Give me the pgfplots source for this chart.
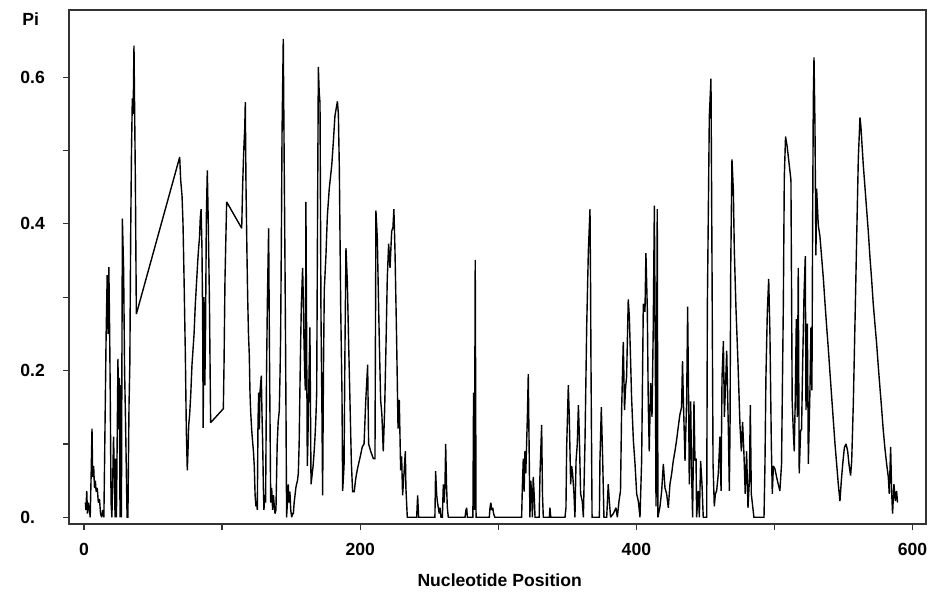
\documentclass[border=0pt]{standalone}
\usepackage{pgfplots}
\pgfplotsset{compat=1.18}
\usepackage{fontspec}
\setmainfont{Liberation Sans}
\newcommand{\lblfont}{\fontsize{8.8}{10}\selectfont\bfseries}
\begin{document}
\begin{tikzpicture}
\path[use as bounding box] (-34.65pt,-36.4pt) rectangle (431.85pt,262.1pt);
\begin{axis}[
  scale only axis, width=428.35pt, height=256.9pt,
  at={(0,0)}, anchor=south west,
  xmin=-10.64, xmax=609.7, ymin=-0.0094, ymax=0.691,
  axis line style={line width=0.9pt, color=black!80},
  tick align=outside, xtick pos=left, ytick pos=left,
  major tick length=3pt,
  every tick/.style={line width=0.6pt, color=black!80},
  xtick={0,100,200,300,400,500,600}, xticklabels={0,,200,,400,,600},
  ytick={0,0.1,0.2,0.3,0.4,0.5,0.6}, yticklabels={0.,,0.2,,0.4,,0.6},
  every tick label/.append style={font=\lblfont, inner sep=0pt},
  yticklabel style={anchor=west, xshift=-21.65pt},
  xticklabel style={anchor=north, yshift=-6.15pt},
  xlabel={Nucleotide Position},
  xlabel style={font=\lblfont, inner sep=0pt, at={(axis description cs:0.5,0)}, anchor=base, yshift=-31.4pt, xshift=1pt},
]
\addplot[black, line width=0.7pt, mark=none, line join=miter, miter limit=2] coordinates {
(1.0,0.02) (1.4,0.01) (2.0,0.036) (2.5,0.005) (3.2,0.02) (3.8,0.012) (4.5,0.0) (5.2,0.06) (5.8,0.121) (6.3,0.055) (7.0,0.07) (7.6,0.04) (8.2,0.05) (8.8,0.035) (9.6,0.04) (10.4,0.02) (11.2,0.025) (12.0,0.005) (12.8,0.0) (13.6,0.01) (14.4,0.0) (15.0,0.09) (16.0,0.245) (16.8,0.33) (17.4,0.25) (18.0,0.341) (18.6,0.25) (19.0,0.17) (19.6,0.02) (20.2,0.0) (20.8,0.05) (21.4,0.11) (22.0,0.06) (22.5,0.0) (23.0,0.08) (23.5,0.0) (24.0,0.1) (24.6,0.216) (25.1,0.12) (25.6,0.19) (26.1,0.0) (26.6,0.18) (27.1,0.0) (27.8,0.407) (28.7,0.337) (29.4,0.2) (30.0,0.14) (30.6,0.07) (31.2,0.0) (31.8,0.0) (32.6,0.152) (33.2,0.21) (33.8,0.383) (34.4,0.5) (35.0,0.571) (35.6,0.55) (36.2,0.643) (36.7,0.55) (37.2,0.459) (37.9,0.277)
(69.3,0.491) (70.0,0.46) (71.0,0.438) (71.7,0.40) (72.4,0.331) (73.4,0.221) (74.1,0.118) (74.8,0.064) (75.3,0.09) (75.8,0.125) (76.5,0.14) (77.3,0.167) (78.2,0.208) (79.0,0.23) (79.7,0.25) (80.6,0.29) (81.2,0.31) (81.8,0.33) (82.4,0.35) (83.0,0.367) (83.6,0.38) (84.2,0.408) (84.8,0.42) (85.4,0.37) (85.9,0.277) (86.3,0.122) (86.9,0.30) (87.5,0.18) (88.0,0.25) (88.6,0.41) (89.3,0.473) (90.0,0.40) (90.8,0.30) (91.7,0.129)
(100.9,0.148) (101.4,0.208) (102.1,0.325) (103.3,0.43) (114.2,0.394) (114.9,0.453) (115.5,0.49) (115.9,0.51) (116.4,0.53) (116.8,0.566) (117.3,0.453) (118.0,0.36) (118.5,0.302) (119.1,0.25) (119.7,0.221) (120.2,0.17) (120.7,0.144) (121.4,0.12) (122.1,0.103) (122.7,0.09) (123.3,0.07) (123.9,0.03) (124.5,0.015) (125.0,0.02) (125.5,0.01) (126.0,0.13) (126.5,0.17) (127.0,0.12) (127.4,0.17) (128.4,0.193) (128.9,0.14) (129.4,0.1) (129.9,0.04) (130.3,0.01) (130.9,0.03) (131.5,0.02) (132.2,0.2) (132.8,0.295) (133.7,0.394) (134.4,0.2) (135.2,0.02) (135.9,0.04) (136.6,0.01) (137.2,0.03) (137.6,0.02) (138.3,0.005) (139.0,0.01) (139.9,0.1) (140.6,0.13) (141.4,0.145) (142.0,0.2) (142.4,0.25) (143.0,0.4) (143.4,0.523) (144.3,0.652) (144.9,0.5) (145.5,0.357) (145.9,0.25) (146.3,0.135) (146.7,0.0) (147.3,0.02) (147.9,0.045) (148.5,0.02) (149.1,0.035) (149.7,0.01) (150.4,0.0) (151.0,0.005) (151.6,0.005) (152.2,0.02) (152.8,0.03) (153.4,0.04) (153.9,0.045) (154.6,0.05) (155.2,0.06) (155.8,0.1) (156.4,0.18) (156.9,0.24) (157.4,0.29) (158.3,0.34) (158.8,0.3) (159.3,0.24) (159.8,0.2) (160.3,0.173) (160.7,0.43) (161.2,0.25) (161.7,0.07) (162.1,0.1) (162.4,0.135) (163.0,0.2) (163.6,0.259) (164.0,0.15) (164.4,0.045) (165.3,0.06) (165.9,0.07) (166.5,0.085) (167.0,0.1) (167.5,0.117) (168.0,0.14) (168.5,0.17) (169.1,0.4) (169.7,0.614) (170.3,0.58) (170.9,0.565) (171.6,0.277) (172.3,0.144) (172.8,0.03) (173.4,0.2) (174.0,0.31)
(175.2,0.357) (176.2,0.41) (177.6,0.448) (179.4,0.48) (180.5,0.51) (181.7,0.547) (183.5,0.567) (184.2,0.55) (184.9,0.475) (185.9,0.285) (186.8,0.17) (187.3,0.036) (188.3,0.07) (189.0,0.236) (189.7,0.367) (190.7,0.32) (191.6,0.24) (192.6,0.158) (193.6,0.075) (194.5,0.035) (195.7,0.035) (196.7,0.052) (197.9,0.065) (199.1,0.075) (200.3,0.085) (201.5,0.096) (202.8,0.1) (204.0,0.158) (205.4,0.208) (206.1,0.1) (207.6,0.09) (209.5,0.08) (210.7,0.08) (211.4,0.418) (212.4,0.38) (213.1,0.31) (213.9,0.235) (214.8,0.16) (215.7,0.14) (216.7,0.09) (217.7,0.146) (218.7,0.236) (219.6,0.325) (220.6,0.373) (221.6,0.34) (222.8,0.39) (223.7,0.395) (224.4,0.42) (225.2,0.363) (226.4,0.24) (227.4,0.121) (228.3,0.16) (229.3,0.064) (230.0,0.083) (230.7,0.03) (231.7,0.059) (232.7,0.09) (233.1,0.04) (234.1,0.0)
(240.9,0.0) (241.6,0.03) (242.3,0.0) (254.1,0.0) (254.6,0.063) (255.4,0.03) (256.0,0.02) (256.6,0.013) (257.2,0.005) (257.8,0.013) (258.5,0.0) (259.5,0.0) (260.2,0.045) (260.8,0.02) (261.4,0.045) (261.9,0.1) (262.5,0.045) (263.1,0.013) (263.8,0.0) (275.9,0.0) (276.6,0.01) (277.1,0.013) (277.6,0.0) (281.6,0.0) (282.1,0.17) (282.7,0.01) (283.3,0.351) (283.9,0.0) (293.5,0.0) (294.0,0.013) (294.6,0.02) (295.2,0.01) (296.0,0.013) (296.6,0.005) (297.5,0.0) (316.9,0.0) (317.4,0.04) (318.1,0.08) (318.7,0.035) (319.3,0.09) (319.9,0.06) (320.5,0.1) (321.1,0.14) (321.7,0.195) (322.3,0.1) (322.9,0.0) (323.5,0.05) (324.1,0.035) (324.7,0.0) (325.3,0.055) (326.0,0.03) (326.6,0.0) (329.6,0.0) (330.2,0.06) (331.4,0.126) (332.0,0.03) (332.6,0.0) (337.0,0.0) (337.4,0.013) (338.0,0.0) (348.3,0.0)
(349.0,0.013) (349.5,0.095) (350.7,0.18) (351.4,0.137) (352.4,0.045) (353.1,0.07) (353.8,0.06) (354.8,0.032) (355.5,0.0) (356.3,0.077) (357.2,0.1) (358.0,0.153) (358.7,0.11) (359.6,0.032) (360.8,0.022) (361.6,0.0) (362.8,0.105) (364.0,0.259) (365.2,0.362) (366.4,0.42) (366.8,0.32) (367.1,0.214) (367.9,0.0) (373.2,0.0) (373.6,0.077) (374.6,0.15) (375.6,0.077) (376.5,0.0) (378.5,0.0) (379.6,0.045) (380.4,0.022) (381.3,0.0) (383.3,0.005) (385.2,0.013) (386.2,0.0) (387.4,0.022) (388.5,0.036) (389.3,0.146) (390.5,0.239) (391.4,0.146) (392.2,0.178) (392.9,0.191) (394.1,0.297) (394.9,0.273) (395.8,0.214) (396.5,0.164) (397.8,0.105) (399.0,0.0727) (400.2,0.032) (401.4,0.022) (402.6,0.0) (403.8,0.077) (405.0,0.291) (406.2,0.28) (406.9,0.36) (407.9,0.284) (408.6,0.155) (409.3,0.09) (410.3,0.183) (411.3,0.137) (412.2,0.259) (413.0,0.425) (413.7,0.217) (414.2,0.015) (415.1,0.42) (415.6,0.0) (417.1,0.015) (418.3,0.036) (419.5,0.0727) (420.7,0.04) (421.9,0.032) (423.1,0.013) (424.3,0.045) (425.5,0.059) (426.7,0.077) (427.9,0.09) (429.1,0.105) (430.3,0.123) (431.5,0.14) (432.7,0.15) (433.4,0.213) (434.0,0.16) (435.2,0.077) (436.4,0.16) (437.1,0.287) (437.8,0.16) (438.3,0.045) (439.3,0.158) (440.0,0.059) (440.7,0.0) (441.7,0.158) (442.4,0.077) (443.2,0.08) (443.6,0.0) (444.8,0.036) (445.6,0.0) (446.5,0.077) (447.5,0.045) (448.4,0.0) (450.9,0.0) (451.4,0.291) (452.8,0.546) (454.0,0.598) (454.7,0.362) (455.5,0.0727) (456.4,0.015) (457.2,0.032) (458.1,0.036) (459.3,0.059) (460.5,0.11) (461.3,0.036) (462.0,0.19) (463.0,0.24) (463.7,0.137) (464.4,0.173) (465.4,0.227) (466.6,0.118) (467.3,0.036) (467.8,0.123) (468.3,0.34) (469.2,0.488) (470.2,0.446) (470.9,0.364) (472.1,0.285) (473.6,0.208) (475.0,0.126) (476.0,0.09) (476.9,0.13) (477.9,0.085) (478.8,0.032) (479.8,0.09) (480.8,0.013) (481.8,0.05) (482.5,0.153) (483.2,0.032) (484.2,0.015) (485.1,0.0) (492.4,0.0) (493.1,0.0727) (493.8,0.191) (494.8,0.28) (495.8,0.325) (496.7,0.25) (497.7,0.1) (498.4,0.032) (499.2,0.07) (500.3,0.066) (501.5,0.055) (502.7,0.045) (503.9,0.036) (505.1,0.0727) (506.4,0.291) (507.1,0.464) (508.0,0.519) (509.2,0.505) (510.4,0.485) (511.9,0.46) (512.8,0.159) (513.6,0.118) (514.3,0.09) (515.0,0.158) (515.8,0.27) (516.5,0.137) (517.2,0.34) (517.9,0.06) (518.9,0.118) (519.6,0.12) (520.4,0.21) (521.4,0.305) (522.3,0.356) (522.8,0.146) (523.8,0.264) (524.5,0.0727) (525.7,0.176) (526.4,0.259) (527.1,0.173) (527.6,0.397) (528.1,0.57) (528.6,0.627) (529.3,0.535) (530.0,0.357) (530.5,0.448) (531.7,0.398) (532.9,0.383) (534.1,0.355) (535.4,0.325) (536.6,0.291) (537.8,0.259) (539.0,0.229) (540.2,0.196) (541.4,0.164) (542.6,0.132) (543.8,0.1) (545.0,0.0727) (546.2,0.045) (547.4,0.022) (548.4,0.05) (549.4,0.0727) (550.6,0.095) (551.8,0.1) (553.0,0.09) (553.9,0.0727) (555.1,0.057) (555.9,0.077) (557.1,0.157) (558.3,0.267) (559.5,0.38) (560.7,0.49) (561.9,0.545) (562.6,0.532) (563.3,0.51) (564.3,0.48) (565.5,0.45) (566.7,0.42) (567.9,0.39) (569.1,0.355) (570.3,0.325) (571.5,0.291) (572.7,0.264) (573.9,0.238) (575.1,0.207) (576.3,0.178) (577.5,0.15) (578.7,0.12) (579.9,0.095) (581.2,0.0727) (582.4,0.055) (583.1,0.032) (584.1,0.096) (584.8,0.036) (585.5,0.005) (586.5,0.045) (587.5,0.022) (588.4,0.036) (589.1,0.02)
};
\end{axis}
\node[anchor=base west, inner sep=0pt, font=\lblfont] at (-23.65pt,249.1pt) {Pi};
\end{tikzpicture}
\end{document}
